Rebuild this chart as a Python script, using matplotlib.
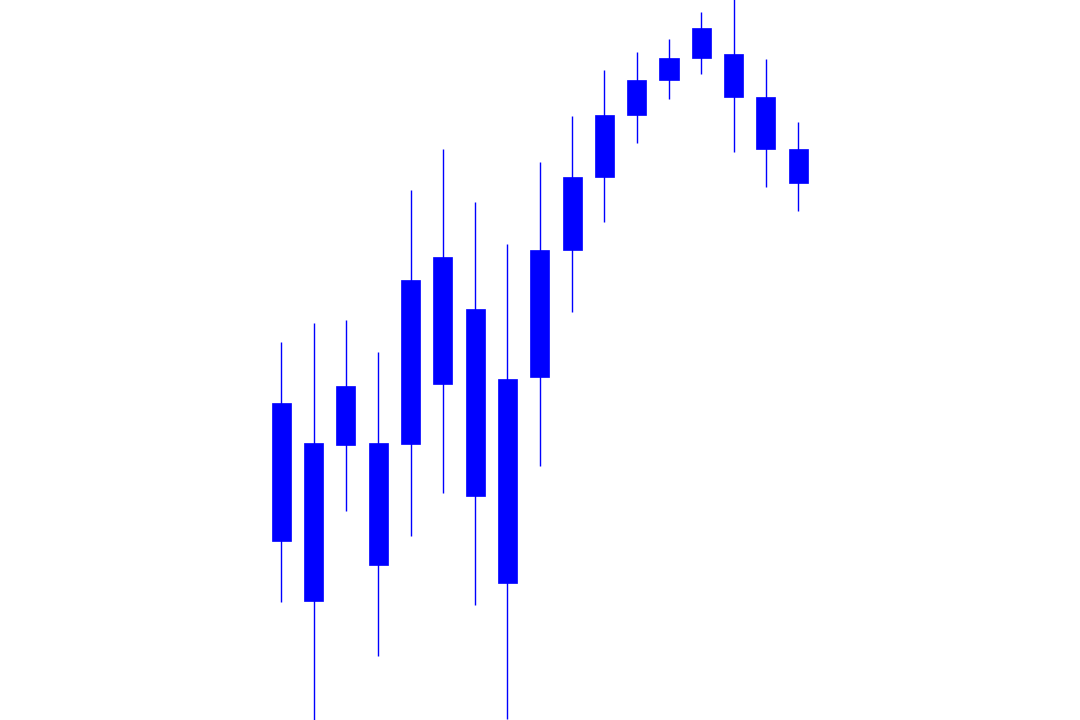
import matplotlib
matplotlib.use("Agg")
import matplotlib.pyplot as plt
import numpy as np

# OHLC values (17 sessions)
opens  = [117.93, 127.73, 127.47, 127.73, 127.57, 133.60, 141.07, 134.13, 134.27,
          147.00, 154.30, 160.53, 164.00, 166.17, 166.57, 162.27, 157.13]
closes = [131.70, 111.90, 133.43, 115.53, 143.97, 146.30, 122.37, 113.67, 147.00,
          154.27, 160.50, 164.00, 166.17, 169.23, 162.27, 157.13, 153.67]
highs  = [137.83, 139.73, 140.00, 136.77, 153.00, 157.13, 151.80, 147.57, 155.83,
          160.43, 164.97, 166.77, 168.07, 170.83, 173.50, 166.10, 159.80]
lows   = [111.77, 99.40, 120.90, 106.40, 118.43, 122.73, 111.53, 100.13, 125.43,
          140.83, 149.80, 157.73, 162.07, 164.57, 156.83, 153.27, 150.93]

x = np.arange(len(opens))
o = np.array(opens); c = np.array(closes)
bottoms = np.minimum(o, c)
heights = np.abs(c - o)

fig = plt.figure(figsize=(10.8, 7.2), dpi=100)
ax = fig.add_axes([0, 0, 1, 1])
ax.vlines(x, lows, highs, color="#0000FF", linewidth=1.0, zorder=1)
ax.bar(x, heights, bottom=bottoms, width=0.59, color="#0000FF",
       edgecolor="#0000FF", linewidth=0.5, zorder=2)
ax.set_xlim(-8.706, 24.72)
ax.set_ylim(100, 172)
ax.axis("off")
fig.savefig("out.png", dpi=100, facecolor="white")
